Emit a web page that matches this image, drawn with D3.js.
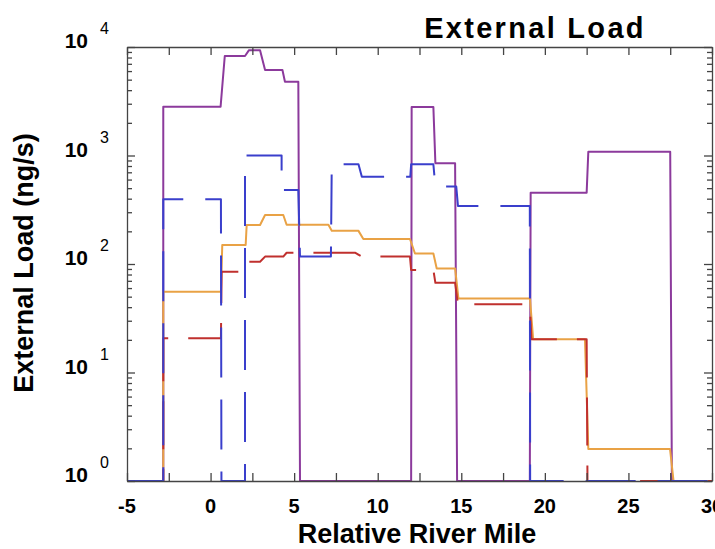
<!DOCTYPE html>
<html lang="en">
<head>
<meta charset="UTF-8">
<title>External Load</title>
<script src="https://cdn.jsdelivr.net/npm/d3@7"></script>
<style>
  body { margin: 0; background: #fff; }
  svg { display: block; font-family: "Liberation Sans", Arial, Helvetica, sans-serif; }
  .line { fill: none; stroke-width: 2px; stroke-linejoin: round; }
  .axis path, .axis line { stroke: #444; stroke-width: 1.3px; }
  .axis text { display: none; }
</style>
</head>
<body>
<script>
// river mile / load pairs (0 = no load, drawn on the floor)
var purpleMile = [-5, -2.83, -2.83, 0.6, 0.85, 2.06, 2.3, 2.96, 3.26, 4.3, 4.45, 5.25, 5.35, 12.0, 12.03, 13.33, 13.45, 14.63, 14.75, 19.1, 19.15, 22.5, 22.6, 27.5, 27.6, 30];
var purpleLoad = [0, 0, 2820, 2820, 8260, 8260, 9350, 9350, 6140, 6140, 4790, 4790, 0, 0, 2800, 2800, 850, 850, 0, 0, 454, 454, 1084, 1084, 0, 0];

var orangeMile = [-5, -2.83, -2.83, 0.62, 0.7, 2.1, 2.16, 2.96, 3.26, 4.35, 4.55, 7.05, 7.25, 8.84, 9.14, 11.93, 12.23, 13.33, 13.53, 14.63, 14.83, 19.11, 19.3, 22.4, 22.6, 27.49, 27.7, 30];
var orangeLoad = [0, 0, 55.6, 55.6, 150, 150, 229, 229, 283, 283, 230, 230, 203, 203, 170, 170, 125, 125, 91, 91, 48, 48, 20.2, 20.2, 1.97, 1.97, 0, 0];

var redMile = [-5, -2.83, -2.83, 0.62, 0.66, 2.1, 2.16, 2.96, 3.26, 4.35, 4.55, 8.64, 9.05, 11.93, 12.0, 13.33, 13.45, 14.63, 14.8, 19.1, 19.2, 22.5, 22.55, 30];
var redLoad = [0, 0, 20.7, 20.7, 85, 85, 105, 105, 117, 117, 127, 127, 117, 117, 88, 88, 67, 67, 42.5, 42.5, 20.2, 20.2, 0, 0];

var blueMile = [-5, -2.83, -2.83, 0.62, 0.65, 2.06, 2.06, 4.25, 4.25, 5.25, 5.35, 7.2, 7.25, 8.85, 9.05, 11.95, 12.0, 13.33, 13.45, 14.7, 14.8, 19.1, 19.12, 30];
var blueLoad = [0, 0, 395, 395, 0, 0, 1000, 1000, 480, 480, 117, 117, 830, 830, 638, 638, 830, 830, 517, 517, 343, 343, 0, 0];

var xTicks = [-5, -2.5, 0, 2.5, 5, 7.5, 10, 12.5, 15, 17.5, 20, 22.5, 25, 27.5, 30];
var xLabels = [-5, 0, 5, 10, 15, 20, 25, 30];
var yDecades = [1, 10, 100, 1000, 10000];
var yExponents = ["0", "1", "2", "3", "4"];

var series = [
  {mile: purpleMile, load: purpleLoad, color: "#8c3a9c", dash: null},
  {mile: orangeMile, load: orangeLoad, color: "#e9a245", dash: null},
  {mile: redMile, load: redLoad, color: "#c0302e", dash: "48,20"},
  {mile: blueMile, load: blueLoad, color: "#3a3fcc", dash: "50,22"}
];

var W = 715, H = 549;
var margin = {top: 47, right: 3, bottom: 68, left: 127},
    width = 712 - margin.left,
    height = 481 - margin.top;

var svg = d3.select("body").append("svg")
    .attr("width", W)
    .attr("height", H);

var g = svg.append("g")
    .attr("transform", "translate(" + margin.left + "," + margin.top + ")");

var x = d3.scaleLinear().domain([-5, 30]).range([0, width]);
var y = d3.scaleLog().domain([1, 10000]).range([height, 0]).clamp(true);

// all tick positions on the log axis: 1..9 per decade
var yTicks = [];
yDecades.forEach(function(d, i) {
  if (i < yDecades.length - 1) {
    for (var k = 1; k < 10; k++) yTicks.push(d * k);
  } else {
    yTicks.push(d);
  }
});

var valueline = d3.line()
    .x(function(d) { return x(d[0]); })
    .y(function(d) { return y(d[1]); });

series.forEach(function(s) {
  var pts = s.mile.map(function(m, i) { return [m, s.load[i]]; });
  var p = g.append("path")
      .datum(pts)
      .attr("class", "line")
      .style("stroke", s.color)
      .attr("d", valueline);
  if (s.dash) p.style("stroke-dasharray", s.dash);
});

// frame with inward ticks on all four sides
g.append("g").attr("class", "axis")
    .attr("transform", "translate(0," + height + ")")
    .call(d3.axisBottom(x).tickValues(xTicks).tickSizeInner(-8).tickSizeOuter(0));
g.append("g").attr("class", "axis")
    .call(d3.axisTop(x).tickValues(xTicks).tickSizeInner(-8).tickSizeOuter(0));

function isMajor(v) { return yDecades.indexOf(v) >= 0; }

var yl = g.append("g").attr("class", "axis")
    .call(d3.axisLeft(y).tickValues(yTicks).tickSizeInner(-8).tickSizeOuter(0));
yl.selectAll(".tick line").attr("x2", function(d) { return isMajor(d) ? 8 : 5; });

var yr = g.append("g").attr("class", "axis")
    .attr("transform", "translate(" + width + ",0)")
    .call(d3.axisRight(y).tickValues(yTicks).tickSizeInner(-8).tickSizeOuter(0));
yr.selectAll(".tick line").attr("x2", function(d) { return isMajor(d) ? -8 : -5; });

// x tick labels
g.selectAll(".xlab")
    .data(xLabels)
  .enter().append("text")
    .attr("class", "xlab")
    .attr("x", function(d) { return x(d); })
    .attr("y", height + 32)
    .attr("text-anchor", "middle")
    .style("font-size", "20px")
    .style("font-weight", "bold")
    .text(function(d) { return d; });

// y tick labels as 10 with a raised exponent
yDecades.forEach(function(d, i) {
  g.append("text")
      .attr("x", 88 - margin.left)
      .attr("y", y(d) + 1)
      .attr("text-anchor", "end")
      .style("font-size", "21px")
      .style("font-weight", "bold")
      .text("10");
  g.append("text")
      .attr("x", 100 - margin.left)
      .attr("y", y(d) - 13)
      .style("font-size", "16px")
      .text(yExponents[i]);
});

// title and axis titles
svg.append("text")
    .attr("x", 535)
    .attr("y", 38)
    .attr("text-anchor", "middle")
    .style("font-size", "29px")
    .style("font-weight", "bold")
    .style("letter-spacing", "2.3px")
    .text("External Load");

svg.append("text")
    .attr("x", 417)
    .attr("y", 543)
    .attr("text-anchor", "middle")
    .style("font-size", "27px")
    .style("font-weight", "bold")
    .text("Relative River Mile");

svg.append("text")
    .attr("transform", "translate(33," + 263 + ") rotate(-90)")
    .attr("text-anchor", "middle")
    .style("font-size", "27px")
    .style("font-weight", "bold")
    .text("External Load (ng/s)");
</script>
</body>
</html>
